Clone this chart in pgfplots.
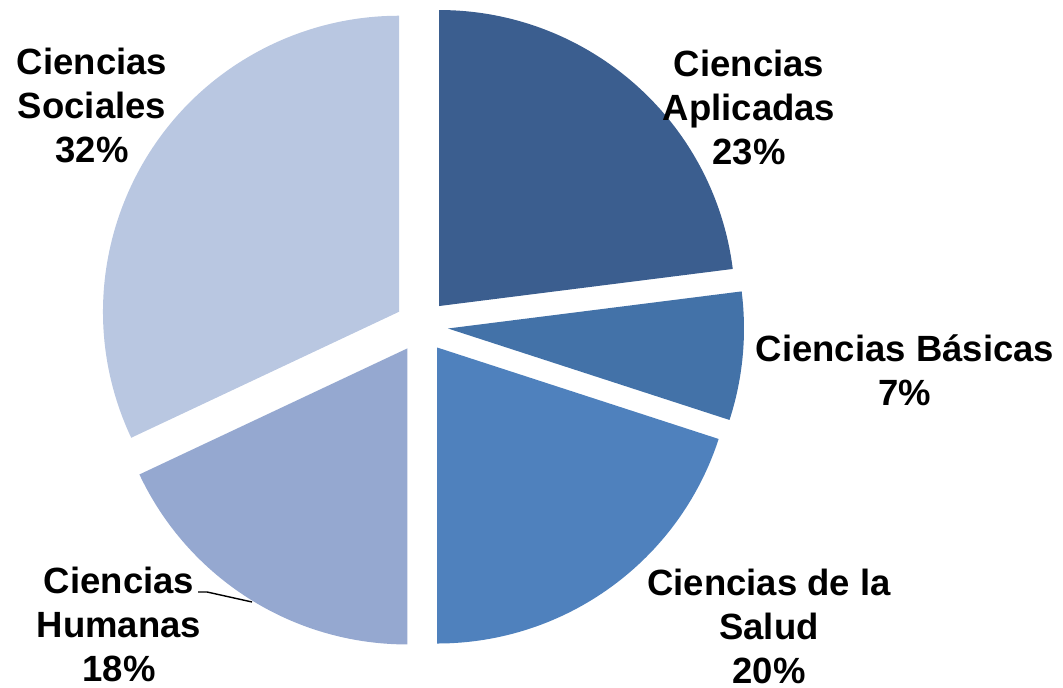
\documentclass[border=0pt]{standalone}
\usepackage{pgfplots}
\pgfplotsset{compat=1.18}
\usepackage{pgfplotstable}
\usepackage{fontspec}
\setmainfont{Liberation Sans}

\definecolor{cA}{HTML}{3B5E8F}
\definecolor{cB}{HTML}{4372A8}
\definecolor{cS}{HTML}{4F81BD}
\definecolor{cH}{HTML}{95A8D0}
\definecolor{cSo}{HTML}{B9C7E1}

% share of each area, clockwise from 12 o'clock
\pgfplotstableread{
name pct col
Aplicadas 23 cA
Basicas 7 cB
Salud 20 cS
Humanas 18 cH
Sociales 32 cSo
}\piedata

\begin{document}
\begin{tikzpicture}
\begin{axis}[
  hide axis,
  scale only axis,
  width=531.5pt, height=344pt,
  xmin=0, xmax=1063, ymin=0, ymax=688,
  clip=false,
]
\pgfplotstablegetrowsof{\piedata}
\pgfmathtruncatemacro\nrows{\pgfplotsretval-1}
\def\cumul{0}
\pgfplotsforeachungrouped \i in {0,...,\nrows}{%
  \pgfplotstablegetelem{\i}{pct}\of\piedata \let\pct\pgfplotsretval
  \pgfplotstablegetelem{\i}{col}\of\piedata \let\col\pgfplotsretval
  \pgfmathsetmacro\sa{90-3.6*\cumul}
  \pgfmathsetmacro\ea{90-3.6*(\cumul+\pct)}
  \pgfmathsetmacro\ma{(\sa+\ea)/2}
  \pgfmathsetmacro\cx{421.5+26.6*cos(\ma)}
  \pgfmathsetmacro\cy{362+26.6*sin(\ma)}
  \edef\temp{\noexpand\fill[\col] (axis cs:\cx,\cy) -- ++(\sa:148pt)
    arc[start angle=\sa, end angle=\ea, radius=148pt] -- cycle;}
  \temp
  \pgfmathsetmacro\cumul{\cumul+\pct}
}

\begin{scope}[every node/.style={align=center, inner sep=0pt,
    font=\bfseries\fontsize{18.25}{22}\selectfont}]
\node at (axis cs:749,581) {Ciencias\\Aplicadas\\23\%};
\node at (axis cs:905,318) {Ciencias Básicas\\7\%};
\node at (axis cs:769,62) {Ciencias de la\\Salud\\20\%};
\node at (axis cs:119,64) {Ciencias\\Humanas\\18\%};
\node at (axis cs:92,583) {Ciencias\\Sociales\\32\%};
\end{scope}
\draw[black, line width=0.7pt] (axis cs:198,96) -- (axis cs:207,96) -- (axis cs:252,86);
\end{axis}
\pgfresetboundingbox
\path[use as bounding box] (current axis.south west) rectangle (current axis.north east);
\end{tikzpicture}
\end{document}
